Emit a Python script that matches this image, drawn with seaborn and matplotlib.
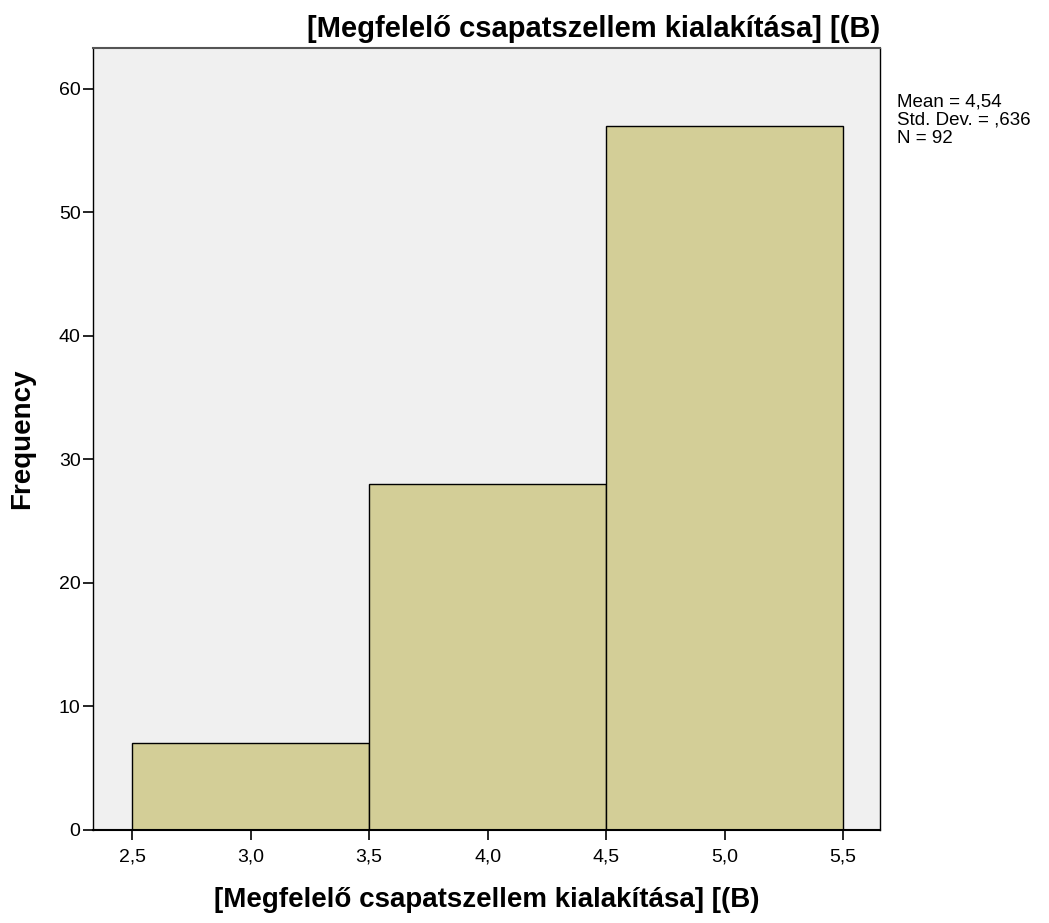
import numpy as np
import matplotlib
matplotlib.use("Agg")
import matplotlib.pyplot as plt
import seaborn as sns

# Histogram data (bin centres and counts)
bin_centres = [3.0, 4.0, 5.0]
counts = [7, 28, 57]
bin_edges = [2.5, 3.5, 4.5, 5.5]
x_ticks = [2.5, 3.0, 3.5, 4.0, 4.5, 5.0, 5.5]
y_ticks = [0, 10, 20, 30, 40, 50, 60]
title = "[Megfelelő csapatszellem kialakítása] [(B)"
stats_text = "Mean = 4,54\nStd. Dev. = ,636\nN = 92"

sns.set_style("ticks")
plt.rcParams['font.family'] = ['Liberation Sans', 'DejaVu Sans']
plt.rcParams['text.color'] = 'black'
plt.rcParams['axes.labelcolor'] = 'black'

fig = plt.figure(figsize=(10.49, 9.23), dpi=100)
ax = fig.add_axes([0.0887, 0.1008, 0.7503, 0.8472])
ax.set_facecolor("#f0f0f0")

sns.histplot(x=bin_centres, weights=counts, bins=bin_edges, ax=ax,
             color="#d3ce97", edgecolor="black", linewidth=1.0, alpha=1)

ax.set_xlim(2.335, 5.656)
ax.set_ylim(0, 63.3)
ax.set_xticks(x_ticks)
ax.set_xticklabels([f"{t:.1f}".replace(".", ",") for t in x_ticks])
ax.set_yticks(y_ticks)
ax.tick_params(axis="both", direction="out", length=7, width=1.2, labelsize=14, colors="black")
ax.tick_params(axis="x", pad=6)
ax.tick_params(axis="y", pad=2)
for s in ax.spines.values():
    s.set_color("black")
    s.set_linewidth(1.0)
ax.spines["bottom"].set_linewidth(1.5)
ax.spines["top"].set_color("#555555")
ax.spines["top"].set_linewidth(1.5)

ax.set_xlabel(title, fontsize=20, fontweight="bold", labelpad=16)
ax.set_ylabel("Frequency", fontsize=20, fontweight="bold", labelpad=17)
ax.set_title(title, fontsize=21, fontweight="bold", loc="right", pad=8)

fig.text(0.855, 0.899, stats_text, fontsize=13.5, va="top", ha="left", linespacing=1.12)

fig.savefig("out.png", dpi=100)
